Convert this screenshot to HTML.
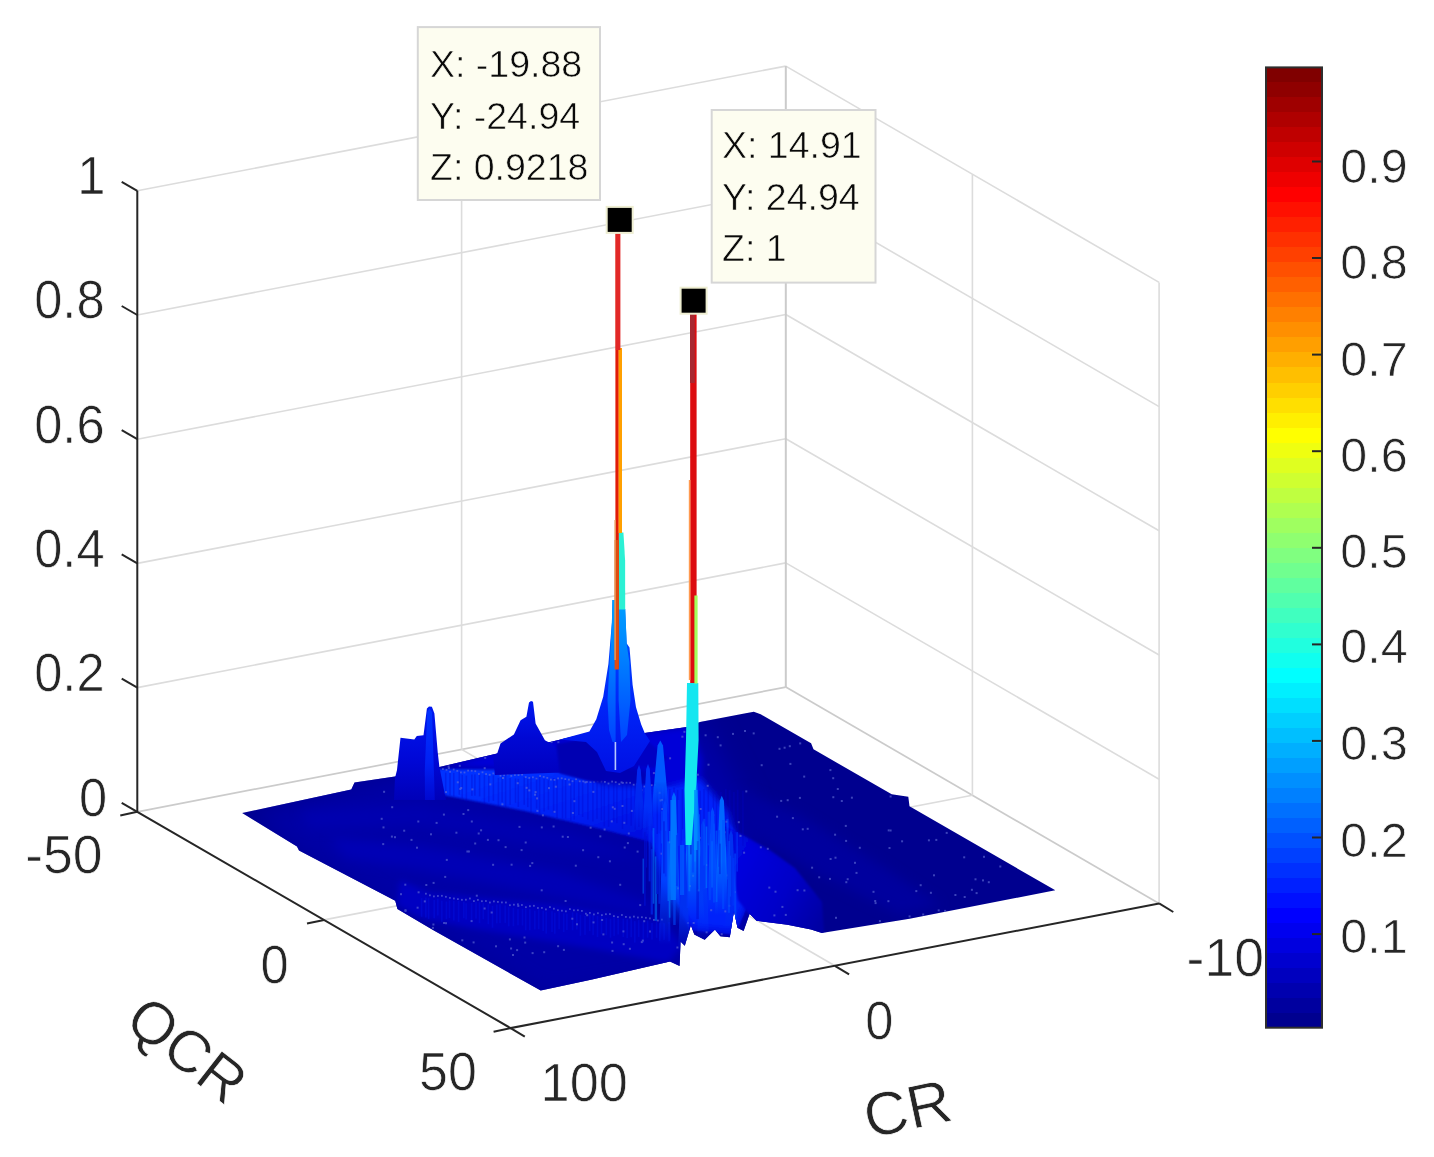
<!DOCTYPE html>
<html lang="en">
<head>
<meta charset="utf-8">
<title>QCR / CR surface plot</title>
<style>
html,body{margin:0;padding:0;background:#fff;}
body{width:1434px;height:1157px;overflow:hidden;}
svg{display:block;}
text{white-space:pre;}
</style>
</head>
<body>
<svg width="1434" height="1157" viewBox="0 0 1434 1157">
<rect x="0" y="0" width="1434" height="1157" fill="#ffffff"/>
<g fill="none" stroke-linecap="butt">
<line x1="137.3" y1="811.8" x2="785.8" y2="687.1" stroke="#cbcbcb" stroke-width="1.7"/>
<line x1="785.8" y1="687.1" x2="1159.1" y2="903.4" stroke="#cbcbcb" stroke-width="1.7"/>
<line x1="137.3" y1="687.6" x2="785.8" y2="562.9" stroke="#dcdcdc" stroke-width="1.6"/>
<line x1="785.8" y1="562.9" x2="1159.1" y2="779.2" stroke="#dcdcdc" stroke-width="1.6"/>
<line x1="137.3" y1="563.4" x2="785.8" y2="438.7" stroke="#dcdcdc" stroke-width="1.6"/>
<line x1="785.8" y1="438.7" x2="1159.1" y2="655" stroke="#dcdcdc" stroke-width="1.6"/>
<line x1="137.3" y1="439.2" x2="785.8" y2="314.5" stroke="#dcdcdc" stroke-width="1.6"/>
<line x1="785.8" y1="314.5" x2="1159.1" y2="530.8" stroke="#dcdcdc" stroke-width="1.6"/>
<line x1="137.3" y1="315" x2="785.8" y2="190.3" stroke="#dcdcdc" stroke-width="1.6"/>
<line x1="785.8" y1="190.3" x2="1159.1" y2="406.6" stroke="#dcdcdc" stroke-width="1.6"/>
<line x1="137.3" y1="190.8" x2="785.8" y2="66.1" stroke="#dcdcdc" stroke-width="1.6"/>
<line x1="785.8" y1="66.1" x2="1159.1" y2="282.4" stroke="#dcdcdc" stroke-width="1.6"/>
<line x1="461.6" y1="749.4" x2="461.6" y2="128.4" stroke="#dcdcdc" stroke-width="1.6"/>
<line x1="785.8" y1="687.1" x2="785.8" y2="66.1" stroke="#cbcbcb" stroke-width="2"/>
<line x1="972.4" y1="795.2" x2="972.4" y2="174.2" stroke="#dcdcdc" stroke-width="1.6"/>
<line x1="1159.1" y1="903.4" x2="1159.1" y2="282.4" stroke="#dcdcdc" stroke-width="1.6"/>
<line x1="461.6" y1="749.4" x2="834.9" y2="965.8" stroke="#dcdcdc" stroke-width="1.6"/>
<line x1="972.4" y1="795.2" x2="324" y2="919.9" stroke="#dcdcdc" stroke-width="1.6"/>
</g>
<defs>
<clipPath id="sc"><polygon points="242.1,813 351.3,789.5 354.5,782.6 395,776.5 439.4,767 497.2,753.6 548,742.5 585.9,733.6 644.7,733.1 687,727 700,721.9 744.3,713.5 753.8,711.7 760.7,714.3 811.1,743.3 813.5,749.3 891.7,794.3 908.3,796.7 909.5,806.2 1055.3,890.3 909.5,918.8 821.8,933 811,929.5 787.4,924.7 756.6,920.8 749.6,913.8 743.6,931.1 737.5,927.7 734,910.4 729.8,937.2 720.3,936.3 715,929.4 704.7,939.8 694.3,934.6 690.9,925 684.8,945.8 680.5,941.5 679.6,966 670,961.6 592,979.5 540.7,990.6 433,930 397.4,909 395.3,900.8 299,850.6 297,846.4"/></clipPath>
<filter id="b12" x="-20%" y="-20%" width="140%" height="140%"><feGaussianBlur stdDeviation="12"/></filter>
<filter id="b6" x="-20%" y="-20%" width="140%" height="140%"><feGaussianBlur stdDeviation="6"/></filter>
<filter id="b3" x="-20%" y="-20%" width="140%" height="140%"><feGaussianBlur stdDeviation="3"/></filter>
<filter id="b1" x="-20%" y="-20%" width="140%" height="140%"><feGaussianBlur stdDeviation="1.2"/></filter>
<linearGradient id="rg" gradientUnits="userSpaceOnUse" x1="560" y1="760" x2="590" y2="850"><stop offset="0" stop-color="#0030ff"/><stop offset="0.6" stop-color="#0020f4"/><stop offset="1" stop-color="#0010e0"/></linearGradient>
<linearGradient id="rw" gradientUnits="userSpaceOnUse" x1="725" y1="860" x2="825" y2="915"><stop offset="0" stop-color="#0008e4"/><stop offset="0.6" stop-color="#0000c8"/><stop offset="1" stop-color="#0000a4"/></linearGradient>
<linearGradient id="pk1" gradientUnits="userSpaceOnUse" x1="0" y1="706" x2="0" y2="800"><stop offset="0" stop-color="#0018f0"/><stop offset="0.55" stop-color="#0008d8"/><stop offset="1" stop-color="#0000b8"/></linearGradient>
<linearGradient id="pk1b" gradientUnits="userSpaceOnUse" x1="0" y1="706" x2="0" y2="800"><stop offset="0" stop-color="#0034ff"/><stop offset="0.6" stop-color="#0020f4"/><stop offset="1" stop-color="#0008d0"/></linearGradient>
<linearGradient id="pk2" gradientUnits="userSpaceOnUse" x1="0" y1="701" x2="0" y2="775"><stop offset="0" stop-color="#0018f0"/><stop offset="0.5" stop-color="#0008d4"/><stop offset="1" stop-color="#0000c0"/></linearGradient>
<linearGradient id="pk3" gradientUnits="userSpaceOnUse" x1="0" y1="600" x2="0" y2="775"><stop offset="0" stop-color="#0070ff"/><stop offset="0.3" stop-color="#0040ff"/><stop offset="0.6" stop-color="#0024f8"/><stop offset="1" stop-color="#0010e4"/></linearGradient>
<linearGradient id="pk3l" gradientUnits="userSpaceOnUse" x1="0" y1="600" x2="0" y2="745"><stop offset="0" stop-color="#00a0ff"/><stop offset="0.4" stop-color="#0080ff"/><stop offset="1" stop-color="#0040ff"/></linearGradient>
</defs>
<polygon points="242.1,813 351.3,789.5 354.5,782.6 395,776.5 439.4,767 497.2,753.6 548,742.5 585.9,733.6 644.7,733.1 687,727 700,721.9 744.3,713.5 753.8,711.7 760.7,714.3 811.1,743.3 813.5,749.3 891.7,794.3 908.3,796.7 909.5,806.2 1055.3,890.3 909.5,918.8 821.8,933 811,929.5 787.4,924.7 756.6,920.8 749.6,913.8 743.6,931.1 737.5,927.7 734,910.4 729.8,937.2 720.3,936.3 715,929.4 704.7,939.8 694.3,934.6 690.9,925 684.8,945.8 680.5,941.5 679.6,966 670,961.6 592,979.5 540.7,990.6 433,930 397.4,909 395.3,900.8 299,850.6 297,846.4" fill="#00008f"/>
<g clip-path="url(#sc)">
<polygon filter="url(#b12)" fill="#0000a6" points="250,815 350,785 440,762 600,728 705,722 745,800 770,925 690,975 545,1000 400,915 300,855"/>
<polygon filter="url(#b3)" fill="#0004d8" points="440,767 497,752 548,741 586,732 645,732 690,726 702,760 700,790 651,785 588,780 550,770"/>
<polygon filter="url(#b1)" fill="url(#rg)" points="440,769 550,770 588,780 651,785 700,790 735,830 748,905 735,935 690,930 651,842 601,829 525,811 433,793 398,790 398,778"/>
<polygon filter="url(#b3)" fill="#0024fa" points="648,792 700,778 728,812 742,860 744,905 733,930 692,926 668,892 652,845"/>
<polygon filter="url(#b3)" fill="#0000b4" points="590,768 625,762 652,774 640,786 600,784"/>
<polygon filter="url(#b3)" fill="#0000c2" points="400,880 430,893 560,905 664,921 682,946 668,963 600,950 470,928 420,918 397,905"/>
<polygon filter="url(#b6)" fill="#0000b6" points="330,838 420,846 560,872 655,905 655,918 560,898 420,870 345,858"/>
<polygon filter="url(#b6)" fill="#0000b0" points="300,812 420,805 560,830 650,860 560,850 420,826 310,828"/>
<polygon filter="url(#b1)" fill="url(#rw)" points="722,826 745,836 770,850 795,868 822,902 824,934 790,927 755,922 738,900"/>
<polygon filter="url(#b6)" fill="#00009e" points="740,790 800,815 880,865 940,905 900,915 820,875 745,830"/>
<g fill="#0000c8" opacity="0.3"><rect x="444.9" y="772.6" width="1.6" height="24.7"/><rect x="449.2" y="772.6" width="1.6" height="22.7"/><rect x="453" y="772.9" width="1.6" height="23.5"/><rect x="458.5" y="771.6" width="1.6" height="23.2"/><rect x="461.4" y="774.7" width="1.6" height="23.8"/><rect x="465.6" y="775.6" width="1.6" height="25.8"/><rect x="471.1" y="774.5" width="1.6" height="21.4"/><rect x="474.1" y="774.4" width="1.6" height="21.3"/><rect x="478.8" y="773.6" width="1.6" height="22.8"/><rect x="483.6" y="774.7" width="1.6" height="29.1"/><rect x="488" y="775.8" width="1.6" height="26"/><rect x="492.6" y="775.3" width="1.6" height="25.5"/><rect x="497.6" y="777.8" width="1.6" height="28.5"/><rect x="501.3" y="775.3" width="1.6" height="26.7"/><rect x="504.8" y="774.6" width="1.6" height="32.4"/><rect x="509.3" y="778" width="1.6" height="26.8"/><rect x="514.7" y="778.4" width="1.6" height="24.3"/><rect x="517.5" y="778.8" width="1.6" height="28.2"/><rect x="523.4" y="777.1" width="1.6" height="27.7"/><rect x="527" y="778.9" width="1.6" height="28.2"/><rect x="530.2" y="777.3" width="1.6" height="35.9"/><rect x="535.8" y="776.9" width="1.6" height="31.7"/><rect x="538.8" y="776.8" width="1.6" height="36.7"/><rect x="543.3" y="779.1" width="1.6" height="32.4"/><rect x="547.6" y="780.1" width="1.6" height="29.7"/><rect x="552.8" y="778" width="1.6" height="35.1"/><rect x="556.2" y="778.8" width="1.6" height="39.2"/><rect x="561.7" y="779.3" width="1.6" height="39.1"/><rect x="564.8" y="779.9" width="1.6" height="38.8"/><rect x="570" y="779.1" width="1.6" height="41.7"/><rect x="573.4" y="779.9" width="1.6" height="39.7"/><rect x="578" y="780.4" width="1.6" height="34.5"/><rect x="581.8" y="781.8" width="1.6" height="35.2"/><rect x="587.1" y="781.3" width="1.6" height="38.3"/><rect x="592.1" y="782.1" width="1.6" height="39.4"/><rect x="596.2" y="781.1" width="1.6" height="37.7"/><rect x="600.6" y="784" width="1.6" height="36.5"/><rect x="603.5" y="783.9" width="1.6" height="42.6"/><rect x="607.8" y="785" width="1.6" height="41.8"/><rect x="612.9" y="783.2" width="1.6" height="38.3"/><rect x="616.1" y="785.6" width="1.6" height="37.6"/><rect x="621.7" y="783.1" width="1.6" height="45.8"/><rect x="625.8" y="783.6" width="1.6" height="40.9"/><rect x="630.3" y="783" width="1.6" height="42.8"/><rect x="634.3" y="786.4" width="1.6" height="43.2"/><rect x="638.1" y="786.9" width="1.6" height="40.1"/><rect x="641.8" y="784.5" width="1.6" height="45"/><rect x="646.2" y="784.5" width="1.6" height="45.3"/><rect x="651.5" y="784.6" width="1.6" height="46.1"/><rect x="656.5" y="788.4" width="1.6" height="45.6"/><rect x="660.4" y="787" width="1.6" height="43.5"/><rect x="663.4" y="785" width="1.6" height="52.3"/><rect x="669" y="789.1" width="1.6" height="42"/><rect x="673.2" y="787.5" width="1.6" height="50.1"/><rect x="676.8" y="789.8" width="1.6" height="43.2"/><rect x="681.6" y="789.1" width="1.6" height="51.4"/><rect x="686.3" y="789.2" width="1.6" height="51.3"/><rect x="690.9" y="788.1" width="1.6" height="52.3"/><rect x="695.2" y="790.5" width="1.6" height="48.6"/><rect x="699.3" y="790.7" width="1.6" height="50.4"/><rect x="703.2" y="789.1" width="1.6" height="52.8"/><rect x="707.5" y="788.2" width="1.6" height="55"/><rect x="712.6" y="791.7" width="1.6" height="53.1"/><rect x="715.7" y="791.3" width="1.6" height="52.9"/><rect x="720.1" y="792" width="1.6" height="49"/><rect x="725" y="789.1" width="1.6" height="56.9"/><rect x="728.8" y="790.2" width="1.6" height="57.4"/><rect x="733.1" y="792" width="1.6" height="58.1"/><rect x="736.9" y="789.8" width="1.6" height="56"/><rect x="742.1" y="790.9" width="1.6" height="54.8"/></g>
<g fill="#0010e0" opacity="0.45"><rect x="420.8" y="898.1" width="1.6" height="18.7"/><rect x="425" y="897.5" width="1.6" height="20"/><rect x="427.8" y="898.1" width="1.6" height="20.8"/><rect x="433.4" y="900" width="1.6" height="18.3"/><rect x="437" y="898.7" width="1.6" height="16.8"/><rect x="441" y="900.7" width="1.6" height="21.1"/><rect x="445.6" y="901.5" width="1.6" height="17.7"/><rect x="448.7" y="900.3" width="1.6" height="17.7"/><rect x="453" y="900.7" width="1.6" height="19.8"/><rect x="457.8" y="900.9" width="1.6" height="21"/><rect x="463" y="901.8" width="1.6" height="16.4"/><rect x="465.3" y="903.3" width="1.6" height="16.2"/><rect x="470.8" y="903" width="1.6" height="17.9"/><rect x="475.2" y="901.8" width="1.6" height="16.8"/><rect x="478.7" y="902.2" width="1.6" height="21"/><rect x="482.5" y="902.9" width="1.6" height="16.3"/><rect x="487.5" y="904.4" width="1.6" height="19.8"/><rect x="491.7" y="905.9" width="1.6" height="21.8"/><rect x="496" y="904.5" width="1.6" height="18.9"/><rect x="499.2" y="904.3" width="1.6" height="18.8"/><rect x="504.4" y="905.3" width="1.6" height="17.6"/><rect x="507.9" y="907.2" width="1.6" height="19.1"/><rect x="512.6" y="907.9" width="1.6" height="18.4"/><rect x="517.2" y="908.8" width="1.6" height="16.5"/><rect x="521.7" y="908.7" width="1.6" height="16.8"/><rect x="524.9" y="908.8" width="1.6" height="21.5"/><rect x="529" y="909" width="1.6" height="21.3"/><rect x="534" y="910.7" width="1.6" height="18.8"/><rect x="537.9" y="908.9" width="1.6" height="20.3"/><rect x="542.4" y="910.7" width="1.6" height="20.3"/><rect x="545.4" y="911.7" width="1.6" height="21.9"/><rect x="551.2" y="911.3" width="1.6" height="20.7"/><rect x="554" y="912.7" width="1.6" height="21.1"/><rect x="558.3" y="910.6" width="1.6" height="18.6"/><rect x="562.9" y="913.2" width="1.6" height="18.9"/><rect x="566.1" y="913.6" width="1.6" height="16.4"/><rect x="571.8" y="912.3" width="1.6" height="18"/><rect x="576" y="912.6" width="1.6" height="16.9"/><rect x="579.6" y="914.8" width="1.6" height="21"/><rect x="584.2" y="915.9" width="1.6" height="19"/><rect x="588.9" y="913.8" width="1.6" height="17.3"/><rect x="592.3" y="914.8" width="1.6" height="20.4"/><rect x="596.7" y="915.9" width="1.6" height="21.1"/><rect x="600.7" y="915.7" width="1.6" height="18.3"/><rect x="605.5" y="918" width="1.6" height="17.2"/><rect x="609.7" y="918.6" width="1.6" height="19.1"/><rect x="613.3" y="916.7" width="1.6" height="19.2"/><rect x="617.4" y="918.3" width="1.6" height="16.2"/><rect x="622.5" y="918.6" width="1.6" height="18.4"/><rect x="626.4" y="919.2" width="1.6" height="18.9"/><rect x="630.4" y="918.1" width="1.6" height="19.2"/><rect x="634" y="921.1" width="1.6" height="21.5"/><rect x="637.9" y="920.1" width="1.6" height="16.8"/><rect x="642.5" y="921.6" width="1.6" height="21.4"/><rect x="646.8" y="920.5" width="1.6" height="17.1"/><rect x="651.2" y="922.8" width="1.6" height="16.8"/><rect x="655.8" y="920.6" width="1.6" height="17.2"/><rect x="658.9" y="922.9" width="1.6" height="17.9"/><rect x="663.3" y="923.2" width="1.6" height="16.6"/><rect x="668.3" y="922.2" width="1.6" height="19.1"/></g>
<g fill="#6470d8" opacity="0.6"><rect x="580.8" y="764.7" width="2" height="2"/><rect x="783.6" y="746.7" width="2" height="2"/><rect x="712.2" y="814.1" width="2" height="2"/><rect x="416" y="846.7" width="2" height="2"/><rect x="403.2" y="829.7" width="2" height="2"/><rect x="423.3" y="750.9" width="2" height="2"/><rect x="643.2" y="920.2" width="2" height="2"/><rect x="456.8" y="781.3" width="2" height="2"/><rect x="769" y="948" width="2" height="2"/><rect x="737.8" y="821.2" width="2" height="2"/><rect x="985.3" y="740.7" width="2" height="2"/><rect x="912.3" y="796.6" width="2" height="2"/><rect x="469.4" y="757.1" width="2" height="2"/><rect x="571.3" y="917.7" width="2" height="2"/><rect x="492.1" y="863.8" width="2" height="2"/><rect x="776.1" y="815.7" width="2" height="2"/><rect x="719.6" y="744.4" width="2" height="2"/><rect x="417" y="777.4" width="2" height="2"/><rect x="801.8" y="828.3" width="2" height="2"/><rect x="574.8" y="864.7" width="2" height="2"/><rect x="661" y="798.9" width="2" height="2"/><rect x="872.5" y="890.8" width="2" height="2"/><rect x="531.3" y="862.1" width="2" height="2"/><rect x="705.6" y="931.3" width="2" height="2"/><rect x="832.3" y="796.2" width="2" height="2"/><rect x="987.7" y="757.2" width="2" height="2"/><rect x="639.2" y="904.1" width="2" height="2"/><rect x="474.2" y="842.5" width="2" height="2"/><rect x="404.3" y="883.7" width="2" height="2"/><rect x="854" y="861.8" width="2" height="2"/><rect x="922.8" y="802.2" width="2" height="2"/><rect x="811.1" y="866.7" width="2" height="2"/><rect x="739.5" y="834.9" width="2" height="2"/><rect x="900.8" y="947.3" width="2" height="2"/><rect x="673.9" y="882.8" width="2" height="2"/><rect x="417.6" y="891.3" width="2" height="2"/><rect x="781.2" y="958.4" width="2" height="2"/><rect x="889.6" y="795.5" width="2" height="2"/><rect x="619.2" y="883.8" width="2" height="2"/><rect x="394" y="836.2" width="2" height="2"/><rect x="484.2" y="756.9" width="2" height="2"/><rect x="416.6" y="906.7" width="2" height="2"/><rect x="460.2" y="787" width="2" height="2"/><rect x="622.4" y="930.4" width="2" height="2"/><rect x="430" y="833.3" width="2" height="2"/><rect x="720.7" y="933.2" width="2" height="2"/><rect x="888" y="928.7" width="2" height="2"/><rect x="552.6" y="825.5" width="2" height="2"/><rect x="602.4" y="933.4" width="2" height="2"/><rect x="973.8" y="764.7" width="2" height="2"/><rect x="489.3" y="783.4" width="2" height="2"/><rect x="524.7" y="841.5" width="2" height="2"/><rect x="745.3" y="790.4" width="2" height="2"/><rect x="382.5" y="826.4" width="2" height="2"/><rect x="608.9" y="860.3" width="2" height="2"/><rect x="970.9" y="888.8" width="2" height="2"/><rect x="699.6" y="872" width="2" height="2"/><rect x="799.2" y="742.4" width="2" height="2"/><rect x="937.7" y="909.4" width="2" height="2"/><rect x="922.2" y="913.5" width="2" height="2"/><rect x="623.3" y="821.8" width="2" height="2"/><rect x="444.2" y="875.9" width="2" height="2"/><rect x="418.6" y="745.5" width="2" height="2"/><rect x="509.4" y="767.3" width="2" height="2"/><rect x="590.8" y="742.1" width="2" height="2"/><rect x="380.1" y="764.8" width="2" height="2"/><rect x="442.9" y="813.6" width="2" height="2"/><rect x="395.8" y="931.1" width="2" height="2"/><rect x="760.7" y="764.2" width="2" height="2"/><rect x="536.4" y="809.9" width="2" height="2"/><rect x="605.8" y="758.3" width="2" height="2"/><rect x="906.3" y="958.4" width="2" height="2"/><rect x="668.9" y="841.3" width="2" height="2"/><rect x="433.2" y="753.5" width="2" height="2"/><rect x="592.4" y="790.9" width="2" height="2"/><rect x="893.9" y="767.1" width="2" height="2"/><rect x="394.3" y="948.7" width="2" height="2"/><rect x="707.5" y="763.7" width="2" height="2"/><rect x="716.8" y="736.2" width="2" height="2"/><rect x="707.4" y="955.1" width="2" height="2"/><rect x="915.3" y="890.1" width="2" height="2"/><rect x="541.9" y="814.3" width="2" height="2"/><rect x="483.6" y="907.5" width="2" height="2"/><rect x="710.2" y="909.2" width="2" height="2"/><rect x="584.4" y="781.3" width="2" height="2"/><rect x="883.1" y="956.5" width="2" height="2"/><rect x="908.6" y="915.4" width="2" height="2"/><rect x="887.4" y="900.2" width="2" height="2"/><rect x="520.6" y="849.1" width="2" height="2"/><rect x="600.4" y="736.7" width="2" height="2"/><rect x="397.3" y="794.3" width="2" height="2"/><rect x="540.7" y="889.3" width="2" height="2"/><rect x="973" y="832.9" width="2" height="2"/><rect x="961" y="957.2" width="2" height="2"/><rect x="972.1" y="813.9" width="2" height="2"/><rect x="516.7" y="782.2" width="2" height="2"/><rect x="502" y="777" width="2" height="2"/><rect x="766.9" y="937.1" width="2" height="2"/><rect x="901.1" y="840.3" width="2" height="2"/><rect x="784.8" y="913.9" width="2" height="2"/><rect x="432.6" y="881.9" width="2" height="2"/><rect x="944.1" y="909.9" width="2" height="2"/><rect x="845.1" y="839.9" width="2" height="2"/><rect x="490.7" y="911.5" width="2" height="2"/><rect x="586.2" y="914.2" width="2" height="2"/><rect x="982.4" y="821" width="2" height="2"/><rect x="628.9" y="947.8" width="2" height="2"/><rect x="829.4" y="769.1" width="2" height="2"/><rect x="458.8" y="764.8" width="2" height="2"/><rect x="941" y="915.5" width="2" height="2"/><rect x="470.6" y="920.1" width="2" height="2"/><rect x="987.8" y="881.2" width="2" height="2"/><rect x="597.3" y="856.2" width="2" height="2"/><rect x="461.2" y="733.3" width="2" height="2"/><rect x="982" y="879.4" width="2" height="2"/><rect x="706.5" y="944.7" width="2" height="2"/><rect x="649" y="930.5" width="2" height="2"/><rect x="892.2" y="778.5" width="2" height="2"/><rect x="536.1" y="797.4" width="2" height="2"/><rect x="529.1" y="864.9" width="2" height="2"/><rect x="540.8" y="826.4" width="2" height="2"/><rect x="461.3" y="939.3" width="2" height="2"/><rect x="599.3" y="835.4" width="2" height="2"/><rect x="741.7" y="938" width="2" height="2"/><rect x="640.8" y="941.1" width="2" height="2"/><rect x="691" y="852.3" width="2" height="2"/><rect x="704.6" y="734.3" width="2" height="2"/><rect x="652.9" y="772.1" width="2" height="2"/><rect x="382.4" y="913.8" width="2" height="2"/><rect x="486.9" y="838.9" width="2" height="2"/><rect x="829.6" y="858" width="2" height="2"/><rect x="582.1" y="849.2" width="2" height="2"/><rect x="724.4" y="910.4" width="2" height="2"/><rect x="445.8" y="858.9" width="2" height="2"/><rect x="534.1" y="793.7" width="2" height="2"/><rect x="858.8" y="846.8" width="2" height="2"/><rect x="728.3" y="904.8" width="2" height="2"/><rect x="945.7" y="831.9" width="2" height="2"/><rect x="759.8" y="846.3" width="2" height="2"/><rect x="697.5" y="889.3" width="2" height="2"/><rect x="660.5" y="852.7" width="2" height="2"/><rect x="676.4" y="946.5" width="2" height="2"/><rect x="813.5" y="931.6" width="2" height="2"/><rect x="964.2" y="789.7" width="2" height="2"/><rect x="726.9" y="947" width="2" height="2"/><rect x="900.8" y="761.5" width="2" height="2"/><rect x="455.4" y="831.7" width="2" height="2"/><rect x="425" y="785.3" width="2" height="2"/><rect x="425.3" y="884" width="2" height="2"/><rect x="866" y="936.3" width="2" height="2"/><rect x="475.8" y="894.7" width="2" height="2"/><rect x="789.4" y="762.9" width="2" height="2"/><rect x="927.4" y="952.5" width="2" height="2"/><rect x="516.1" y="949.1" width="2" height="2"/><rect x="626.9" y="842.1" width="2" height="2"/><rect x="993.7" y="921.5" width="2" height="2"/><rect x="480.1" y="829.3" width="2" height="2"/><rect x="699.7" y="808" width="2" height="2"/><rect x="501.4" y="803.3" width="2" height="2"/><rect x="827.7" y="734.5" width="2" height="2"/><rect x="723.5" y="831.3" width="2" height="2"/><rect x="391.2" y="806.2" width="2" height="2"/><rect x="766.8" y="847.8" width="2" height="2"/><rect x="419.9" y="956.6" width="2" height="2"/><rect x="868.8" y="953.5" width="2" height="2"/><rect x="445" y="791.1" width="2" height="2"/><rect x="404.5" y="909.2" width="2" height="2"/><rect x="547.7" y="759.8" width="2" height="2"/><rect x="641.8" y="939.6" width="2" height="2"/><rect x="887.8" y="789.5" width="2" height="2"/><rect x="472.6" y="941.4" width="2" height="2"/><rect x="733.8" y="891.1" width="2" height="2"/><rect x="435.5" y="743.2" width="2" height="2"/><rect x="806.7" y="827.8" width="2" height="2"/><rect x="424.9" y="945.8" width="2" height="2"/><rect x="773.4" y="914.4" width="2" height="2"/><rect x="431.9" y="926.9" width="2" height="2"/><rect x="421.3" y="928.4" width="2" height="2"/><rect x="661.3" y="808" width="2" height="2"/><rect x="722.9" y="943.1" width="2" height="2"/><rect x="546.1" y="759.7" width="2" height="2"/><rect x="706.7" y="784.8" width="2" height="2"/><rect x="447.9" y="767.1" width="2" height="2"/><rect x="411.2" y="776.4" width="2" height="2"/><rect x="573.4" y="800.2" width="2" height="2"/><rect x="850.9" y="796.7" width="2" height="2"/><rect x="690.1" y="770.9" width="2" height="2"/><rect x="595.1" y="734.2" width="2" height="2"/><rect x="535.3" y="733.5" width="2" height="2"/><rect x="834.5" y="856.7" width="2" height="2"/><rect x="497.5" y="839.2" width="2" height="2"/><rect x="959.5" y="754.4" width="2" height="2"/><rect x="887.7" y="829.4" width="2" height="2"/><rect x="686.9" y="922" width="2" height="2"/><rect x="623.7" y="846.5" width="2" height="2"/><rect x="806.4" y="956" width="2" height="2"/><rect x="592.5" y="921.4" width="2" height="2"/><rect x="818.2" y="876.3" width="2" height="2"/><rect x="630.9" y="809.9" width="2" height="2"/><rect x="413.7" y="759.9" width="2" height="2"/><rect x="423.8" y="900.4" width="2" height="2"/><rect x="538.5" y="767.5" width="2" height="2"/><rect x="432.4" y="923.5" width="2" height="2"/><rect x="919.7" y="884.2" width="2" height="2"/><rect x="554.8" y="785.7" width="2" height="2"/><rect x="561.7" y="835.7" width="2" height="2"/><rect x="477.7" y="832.5" width="2" height="2"/><rect x="543.2" y="951.2" width="2" height="2"/><rect x="983" y="855.8" width="2" height="2"/><rect x="531.6" y="952.1" width="2" height="2"/><rect x="571.9" y="812" width="2" height="2"/><rect x="380.7" y="817.8" width="2" height="2"/><rect x="674.3" y="845.6" width="2" height="2"/><rect x="504.6" y="846.1" width="2" height="2"/><rect x="383.1" y="790.8" width="2" height="2"/><rect x="435.6" y="821.9" width="2" height="2"/><rect x="405.8" y="735.2" width="2" height="2"/><rect x="568.6" y="783.5" width="2" height="2"/><rect x="743.1" y="851.7" width="2" height="2"/><rect x="845.3" y="881.2" width="2" height="2"/><rect x="823.9" y="932.2" width="2" height="2"/><rect x="621.5" y="805" width="2" height="2"/><rect x="990.5" y="764.4" width="2" height="2"/><rect x="829" y="877.9" width="2" height="2"/><rect x="407.1" y="922.1" width="2" height="2"/><rect x="933" y="874.3" width="2" height="2"/><rect x="835" y="916.8" width="2" height="2"/><rect x="466.4" y="850.5" width="2" height="2"/><rect x="692.7" y="922" width="2" height="2"/><rect x="878.9" y="920.1" width="2" height="2"/><rect x="742.1" y="935.4" width="2" height="2"/><rect x="803.4" y="889.5" width="2" height="2"/><rect x="522.6" y="737.2" width="2" height="2"/><rect x="462.5" y="813" width="2" height="2"/><rect x="445" y="922.2" width="2" height="2"/><rect x="726.3" y="874.4" width="2" height="2"/><rect x="768.3" y="886.6" width="2" height="2"/><rect x="683.4" y="730.8" width="2" height="2"/><rect x="874.6" y="902.1" width="2" height="2"/><rect x="691.8" y="853.1" width="2" height="2"/><rect x="788.8" y="745.2" width="2" height="2"/><rect x="836.8" y="788" width="2" height="2"/><rect x="426.2" y="791.1" width="2" height="2"/><rect x="832.2" y="777.2" width="2" height="2"/><rect x="838.7" y="954.4" width="2" height="2"/><rect x="686.2" y="818" width="2" height="2"/><rect x="677" y="887.3" width="2" height="2"/><rect x="855.5" y="871.9" width="2" height="2"/><rect x="778.5" y="747.8" width="2" height="2"/><rect x="471.4" y="788.4" width="2" height="2"/><rect x="840.8" y="800" width="2" height="2"/><rect x="732" y="732.9" width="2" height="2"/><rect x="417.6" y="791.8" width="2" height="2"/><rect x="796.6" y="889.2" width="2" height="2"/><rect x="798.9" y="796.9" width="2" height="2"/><rect x="700.3" y="836.9" width="2" height="2"/><rect x="669.1" y="757.3" width="2" height="2"/><rect x="934.1" y="775.8" width="2" height="2"/><rect x="986.4" y="945.3" width="2" height="2"/><rect x="390.9" y="835.6" width="2" height="2"/><rect x="888.3" y="952.7" width="2" height="2"/><rect x="658.7" y="791.8" width="2" height="2"/><rect x="510.1" y="947.5" width="2" height="2"/><rect x="510.6" y="863.7" width="2" height="2"/><rect x="467.9" y="850.5" width="2" height="2"/><rect x="970.7" y="760.5" width="2" height="2"/><rect x="888.5" y="847" width="2" height="2"/><rect x="929.9" y="891.8" width="2" height="2"/><rect x="523.5" y="936.5" width="2" height="2"/><rect x="681.4" y="735.7" width="2" height="2"/><rect x="382.2" y="843.1" width="2" height="2"/><rect x="659.5" y="799.4" width="2" height="2"/><rect x="467.2" y="809.1" width="2" height="2"/><rect x="576" y="923.3" width="2" height="2"/><rect x="381.1" y="902.7" width="2" height="2"/><rect x="900.2" y="757.6" width="2" height="2"/><rect x="954.4" y="894" width="2" height="2"/><rect x="939" y="796.7" width="2" height="2"/><rect x="610.8" y="820.4" width="2" height="2"/><rect x="999.3" y="865.5" width="2" height="2"/><rect x="603.6" y="828.5" width="2" height="2"/><rect x="550.6" y="741.1" width="2" height="2"/><rect x="443.1" y="922" width="2" height="2"/><rect x="557.1" y="945.2" width="2" height="2"/><rect x="534.6" y="791.1" width="2" height="2"/><rect x="696.8" y="773.7" width="2" height="2"/><rect x="611.5" y="949.9" width="2" height="2"/><rect x="928.2" y="916.8" width="2" height="2"/><rect x="771.2" y="940.1" width="2" height="2"/><rect x="963.2" y="856.3" width="2" height="2"/><rect x="826.1" y="741.4" width="2" height="2"/><rect x="834.1" y="833.7" width="2" height="2"/><rect x="846.7" y="878.2" width="2" height="2"/><rect x="557.4" y="741.3" width="2" height="2"/><rect x="954.6" y="759.3" width="2" height="2"/><rect x="672.8" y="809" width="2" height="2"/><rect x="564.6" y="900" width="2" height="2"/><rect x="985.3" y="789.8" width="2" height="2"/><rect x="786.7" y="799.2" width="2" height="2"/><rect x="725.5" y="820.7" width="2" height="2"/><rect x="483.7" y="767.2" width="2" height="2"/><rect x="508.9" y="938.4" width="2" height="2"/><rect x="688.2" y="780.6" width="2" height="2"/><rect x="941.9" y="959.2" width="2" height="2"/><rect x="659" y="762.1" width="2" height="2"/><rect x="499.3" y="750.9" width="2" height="2"/><rect x="592" y="751" width="2" height="2"/><rect x="528.3" y="789.4" width="2" height="2"/><rect x="733.2" y="934.1" width="2" height="2"/><rect x="844.8" y="824.9" width="2" height="2"/><rect x="636.6" y="850.6" width="2" height="2"/><rect x="613.7" y="807.8" width="2" height="2"/><rect x="418.5" y="793.8" width="2" height="2"/><rect x="980" y="759" width="2" height="2"/><rect x="692.1" y="874.8" width="2" height="2"/><rect x="915" y="779.7" width="2" height="2"/><rect x="548" y="787.1" width="2" height="2"/><rect x="627.8" y="832.5" width="2" height="2"/><rect x="971.4" y="925.2" width="2" height="2"/><rect x="921.2" y="735" width="2" height="2"/><rect x="400" y="893.2" width="2" height="2"/><rect x="935.3" y="838.9" width="2" height="2"/><rect x="744" y="730" width="2" height="2"/><rect x="622.7" y="943.2" width="2" height="2"/><rect x="891.9" y="926.8" width="2" height="2"/><rect x="982.8" y="787.1" width="2" height="2"/><rect x="447.6" y="765.5" width="2" height="2"/><rect x="703.9" y="886.9" width="2" height="2"/><rect x="963.7" y="896" width="2" height="2"/><rect x="781.4" y="905.9" width="2" height="2"/><rect x="663.5" y="856.8" width="2" height="2"/><rect x="404.5" y="909.9" width="2" height="2"/><rect x="524.2" y="941.6" width="2" height="2"/><rect x="780.2" y="799.9" width="2" height="2"/><rect x="459.3" y="787.9" width="2" height="2"/><rect x="774.5" y="890.7" width="2" height="2"/><rect x="449.5" y="746.2" width="2" height="2"/><rect x="705.2" y="864.1" width="2" height="2"/><rect x="620.6" y="781.4" width="2" height="2"/><rect x="752.7" y="732.4" width="2" height="2"/><rect x="566.9" y="836" width="2" height="2"/><rect x="974.5" y="878.3" width="2" height="2"/><rect x="927.9" y="839.3" width="2" height="2"/><rect x="525.6" y="786.8" width="2" height="2"/><rect x="975.6" y="892.1" width="2" height="2"/><rect x="570.6" y="735" width="2" height="2"/><rect x="689" y="885.1" width="2" height="2"/><rect x="640.4" y="789.2" width="2" height="2"/><rect x="793.8" y="942.8" width="2" height="2"/><rect x="520.6" y="737.8" width="2" height="2"/><rect x="589.6" y="826.7" width="2" height="2"/><rect x="803.2" y="775.6" width="2" height="2"/><rect x="874.2" y="900" width="2" height="2"/><rect x="693" y="777.2" width="2" height="2"/><rect x="981.3" y="801.7" width="2" height="2"/><rect x="888.4" y="783.1" width="2" height="2"/><rect x="517.3" y="904.9" width="2" height="2"/><rect x="562.9" y="948.9" width="2" height="2"/><rect x="687.4" y="773.1" width="2" height="2"/><rect x="518.5" y="825.9" width="2" height="2"/><rect x="792.5" y="948.2" width="2" height="2"/><rect x="470.8" y="820.5" width="2" height="2"/><rect x="512" y="954" width="2" height="2"/><rect x="468" y="741.9" width="2" height="2"/><rect x="417.3" y="820.5" width="2" height="2"/><rect x="936.9" y="933.2" width="2" height="2"/><rect x="834.3" y="959.4" width="2" height="2"/><rect x="957.6" y="805.7" width="2" height="2"/><rect x="495" y="945.3" width="2" height="2"/><rect x="842.7" y="737.3" width="2" height="2"/><rect x="791.9" y="817.1" width="2" height="2"/><rect x="611.8" y="806.3" width="2" height="2"/><rect x="484.9" y="730.7" width="2" height="2"/><rect x="553.5" y="810.8" width="2" height="2"/><rect x="972.4" y="758.5" width="2" height="2"/><rect x="977.8" y="777.7" width="2" height="2"/><rect x="601.1" y="919" width="2" height="2"/><rect x="889.6" y="829.5" width="2" height="2"/><rect x="410.5" y="838.9" width="2" height="2"/><rect x="611.1" y="941.5" width="2" height="2"/><rect x="442" y="768.2" width="1.8" height="1.8"/><rect x="445.6" y="769" width="1.8" height="1.8"/><rect x="449.2" y="770.9" width="1.8" height="1.8"/><rect x="452.8" y="768.6" width="1.8" height="1.8"/><rect x="456.4" y="770" width="1.8" height="1.8"/><rect x="460" y="771.5" width="1.8" height="1.8"/><rect x="463.6" y="771.6" width="1.8" height="1.8"/><rect x="467.2" y="769.7" width="1.8" height="1.8"/><rect x="470.8" y="769.9" width="1.8" height="1.8"/><rect x="474.4" y="770.3" width="1.8" height="1.8"/><rect x="478" y="773.1" width="1.8" height="1.8"/><rect x="481.6" y="771.4" width="1.8" height="1.8"/><rect x="485.2" y="773.2" width="1.8" height="1.8"/><rect x="488.8" y="773.9" width="1.8" height="1.8"/><rect x="492.4" y="772.5" width="1.8" height="1.8"/><rect x="496" y="772.6" width="1.8" height="1.8"/><rect x="499.6" y="774.9" width="1.8" height="1.8"/><rect x="503.2" y="774.1" width="1.8" height="1.8"/><rect x="506.8" y="773.4" width="1.8" height="1.8"/><rect x="510.4" y="775" width="1.8" height="1.8"/><rect x="514" y="774.1" width="1.8" height="1.8"/><rect x="517.6" y="774.2" width="1.8" height="1.8"/><rect x="521.2" y="773.7" width="1.8" height="1.8"/><rect x="524.8" y="776.2" width="1.8" height="1.8"/><rect x="528.4" y="777" width="1.8" height="1.8"/><rect x="532" y="776.4" width="1.8" height="1.8"/><rect x="535.6" y="777.6" width="1.8" height="1.8"/><rect x="539.2" y="775.1" width="1.8" height="1.8"/><rect x="542.8" y="776" width="1.8" height="1.8"/><rect x="546.4" y="777" width="1.8" height="1.8"/><rect x="550" y="778.7" width="1.8" height="1.8"/><rect x="553.6" y="779" width="1.8" height="1.8"/><rect x="557.2" y="777.5" width="1.8" height="1.8"/><rect x="560.8" y="777.4" width="1.8" height="1.8"/><rect x="564.4" y="778.2" width="1.8" height="1.8"/><rect x="568" y="778.7" width="1.8" height="1.8"/><rect x="571.6" y="780.3" width="1.8" height="1.8"/><rect x="575.2" y="778.3" width="1.8" height="1.8"/><rect x="578.8" y="780.4" width="1.8" height="1.8"/><rect x="582.4" y="780.5" width="1.8" height="1.8"/><rect x="586" y="781" width="1.8" height="1.8"/><rect x="589.6" y="781.2" width="1.8" height="1.8"/><rect x="593.2" y="780.9" width="1.8" height="1.8"/><rect x="596.8" y="780.4" width="1.8" height="1.8"/><rect x="600.4" y="780.6" width="1.8" height="1.8"/><rect x="604" y="781" width="1.8" height="1.8"/><rect x="607.6" y="782.6" width="1.8" height="1.8"/><rect x="611.2" y="780.7" width="1.8" height="1.8"/><rect x="614.8" y="781.3" width="1.8" height="1.8"/><rect x="618.4" y="783.3" width="1.8" height="1.8"/><rect x="622" y="782" width="1.8" height="1.8"/><rect x="625.6" y="781.8" width="1.8" height="1.8"/><rect x="629.2" y="781.9" width="1.8" height="1.8"/><rect x="632.8" y="783.8" width="1.8" height="1.8"/><rect x="636.4" y="783.4" width="1.8" height="1.8"/><rect x="640" y="785.6" width="1.8" height="1.8"/><rect x="643.6" y="785.6" width="1.8" height="1.8"/><rect x="647.2" y="786.2" width="1.8" height="1.8"/><rect x="650.8" y="784.3" width="1.8" height="1.8"/><rect x="654.4" y="784" width="1.8" height="1.8"/><rect x="425" y="892.8" width="1.8" height="1.8"/><rect x="429" y="894.4" width="1.8" height="1.8"/><rect x="433" y="895.5" width="1.8" height="1.8"/><rect x="437" y="895.1" width="1.8" height="1.8"/><rect x="441" y="894.9" width="1.8" height="1.8"/><rect x="445" y="895.9" width="1.8" height="1.8"/><rect x="449" y="897" width="1.8" height="1.8"/><rect x="453" y="897.6" width="1.8" height="1.8"/><rect x="457" y="898.2" width="1.8" height="1.8"/><rect x="461" y="898.9" width="1.8" height="1.8"/><rect x="465" y="898.8" width="1.8" height="1.8"/><rect x="469" y="897.6" width="1.8" height="1.8"/><rect x="473" y="900.2" width="1.8" height="1.8"/><rect x="477" y="899" width="1.8" height="1.8"/><rect x="481" y="900.3" width="1.8" height="1.8"/><rect x="485" y="900.1" width="1.8" height="1.8"/><rect x="489" y="901.6" width="1.8" height="1.8"/><rect x="493" y="900.5" width="1.8" height="1.8"/><rect x="497" y="901" width="1.8" height="1.8"/><rect x="501" y="901.5" width="1.8" height="1.8"/><rect x="505" y="901.6" width="1.8" height="1.8"/><rect x="509" y="904.3" width="1.8" height="1.8"/><rect x="513" y="903.8" width="1.8" height="1.8"/><rect x="517" y="903.4" width="1.8" height="1.8"/><rect x="521" y="904.1" width="1.8" height="1.8"/><rect x="525" y="906.3" width="1.8" height="1.8"/><rect x="529" y="905.3" width="1.8" height="1.8"/><rect x="533" y="904.9" width="1.8" height="1.8"/><rect x="537" y="907.1" width="1.8" height="1.8"/><rect x="541" y="907" width="1.8" height="1.8"/><rect x="545" y="908.5" width="1.8" height="1.8"/><rect x="549" y="906.2" width="1.8" height="1.8"/><rect x="553" y="907.8" width="1.8" height="1.8"/><rect x="557" y="909.3" width="1.8" height="1.8"/><rect x="561" y="909.8" width="1.8" height="1.8"/><rect x="565" y="910.4" width="1.8" height="1.8"/><rect x="569" y="908.2" width="1.8" height="1.8"/><rect x="573" y="909.4" width="1.8" height="1.8"/><rect x="577" y="909.3" width="1.8" height="1.8"/><rect x="581" y="910" width="1.8" height="1.8"/><rect x="585" y="912.8" width="1.8" height="1.8"/><rect x="589" y="912" width="1.8" height="1.8"/><rect x="593" y="913.5" width="1.8" height="1.8"/><rect x="597" y="912.3" width="1.8" height="1.8"/><rect x="601" y="914.2" width="1.8" height="1.8"/><rect x="605" y="913.3" width="1.8" height="1.8"/><rect x="609" y="913.2" width="1.8" height="1.8"/><rect x="613" y="915.2" width="1.8" height="1.8"/><rect x="617" y="916.1" width="1.8" height="1.8"/><rect x="621" y="914.1" width="1.8" height="1.8"/><rect x="625" y="916" width="1.8" height="1.8"/><rect x="629" y="916.5" width="1.8" height="1.8"/><rect x="633" y="915.7" width="1.8" height="1.8"/><rect x="637" y="916.6" width="1.8" height="1.8"/><rect x="641" y="916.3" width="1.8" height="1.8"/><rect x="645" y="916.9" width="1.8" height="1.8"/><rect x="649" y="917.5" width="1.8" height="1.8"/><rect x="653" y="919" width="1.8" height="1.8"/><rect x="657" y="919.6" width="1.8" height="1.8"/><rect x="661" y="918.7" width="1.8" height="1.8"/></g>
</g>
<polygon fill="url(#pk1)" points="395,778 397,770 400.5,737.7 414.3,739.4 416.8,736 423.5,735.2 426.9,708.5 429,706.5 431.9,706.8 434.4,713.5 437.7,752 439.4,767 446,800 394,800"/>
<polygon fill="url(#pk1b)" points="424.8,770 427.2,712 429.5,708.5 432,712 434.8,800 425,800"/>
<polygon fill="url(#pk2)" points="493,757 497.2,753.6 500.5,743.6 513.9,734.4 520.6,720.2 526.4,716.8 529,702.6 531,701 533,701.8 535.6,723.5 544.9,740.3 552,744 575,772 495,775"/>
<polygon filter="url(#b1)" fill="#0000b2" points="556,744 588,738 600,755 607,772 601,783 582,779 560,773"/>
<polygon filter="url(#b1)" fill="#0000c4" points="644,738 668,758 654,768 636,766 630,770 636,748"/>
<polygon fill="url(#pk3)" points="560,739.5 589.4,731.4 596.3,719.3 603.2,696.8 608.4,664 611.9,622.5 612.4,600 618.6,600 618.6,609 625.2,609 626.6,643.2 629.5,647.5 632.6,684.7 636,707.2 641.2,724.5 644.7,733.1 650,741 634,766 620,773 606,771 597,752 586,742"/>
<polygon fill="url(#pk3l)" points="607.5,700 611.9,622.5 612.4,600 615.6,600 615.6,742 612.5,742 609,730"/>
<polygon fill="url(#pk3l)" points="618.6,609 625.2,609 626.8,645 629.4,662 630.5,700 627,735 621,742 618.6,700"/>
<rect x="614.6" y="742" width="1.6" height="28" fill="#b8c8ff"/>
<polygon fill="#2cf0d4" points="618.6,532.4 623.4,532.4 625.1,560 625.2,609.4 618.6,609.4"/>
<rect x="615.4" y="232" width="3.4" height="437" fill="#e01c08"/>
<rect x="618.6" y="348" width="3.4" height="185" fill="#ffa000"/>
<rect x="615.8" y="232" width="4.6" height="118" fill="#e22828"/>
<rect x="614.6" y="540" width="4.2" height="129.5" fill="#e04c10"/>
<rect x="614.4" y="520" width="1.4" height="140" fill="#e8a060"/>
<g clip-path="url(#sc)">
<linearGradient id="sg0" x1="0" y1="0" x2="0" y2="1"><stop offset="0" stop-color="#0058ff"/><stop offset="0.55" stop-color="#0058ff"/><stop offset="1" stop-color="#0058ff" stop-opacity="0"/></linearGradient>
<polygon fill="url(#sg0)" points="651.3,815 657.6,745.4 660.3,740.4 663,745.4 669.3,815"/>
<linearGradient id="sg1" x1="0" y1="0" x2="0" y2="1"><stop offset="0" stop-color="#0030f8"/><stop offset="0.55" stop-color="#0030f8"/><stop offset="1" stop-color="#0030f8" stop-opacity="0"/></linearGradient>
<polygon fill="url(#sg1)" points="642,840 646.2,769 648,764 649.8,769 654,840"/>
<linearGradient id="sg2" x1="0" y1="0" x2="0" y2="1"><stop offset="0" stop-color="#0028f0"/><stop offset="0.55" stop-color="#0028f0"/><stop offset="1" stop-color="#0028f0" stop-opacity="0"/></linearGradient>
<polygon fill="url(#sg2)" points="633,830 637.2,770 639,765 640.8,770 645,830"/>
<linearGradient id="sg3" x1="0" y1="0" x2="0" y2="1"><stop offset="0" stop-color="#0068ff"/><stop offset="0.55" stop-color="#0068ff"/><stop offset="1" stop-color="#0068ff" stop-opacity="0"/></linearGradient>
<polygon fill="url(#sg3)" points="667.4,925 671.9,797 673.9,792 675.9,797 680.4,925"/>
<linearGradient id="sg4" x1="0" y1="0" x2="0" y2="1"><stop offset="0" stop-color="#0040ff"/><stop offset="0.55" stop-color="#0040ff"/><stop offset="1" stop-color="#0040ff" stop-opacity="0"/></linearGradient>
<polygon fill="url(#sg4)" points="659,945 663.2,805 665,800 666.8,805 671,945"/>
<linearGradient id="sg5" x1="0" y1="0" x2="0" y2="1"><stop offset="0" stop-color="#0074ff"/><stop offset="0.55" stop-color="#0074ff"/><stop offset="1" stop-color="#0074ff" stop-opacity="0"/></linearGradient>
<polygon fill="url(#sg5)" points="682.4,920 690.1,776 693.4,771 696.7,776 704.4,920"/>
<linearGradient id="sg6" x1="0" y1="0" x2="0" y2="1"><stop offset="0" stop-color="#0048ff"/><stop offset="0.55" stop-color="#0048ff"/><stop offset="1" stop-color="#0048ff" stop-opacity="0"/></linearGradient>
<polygon fill="url(#sg6)" points="707,915 710.9,812 712.5,807 714.1,812 718,915"/>
<polygon fill="url(#sg3)" points="714.8,915 719.7,800.7 721.8,795.7 723.9,800.7 728.8,915"/>
<linearGradient id="sg7" x1="0" y1="0" x2="0" y2="1"><stop offset="0" stop-color="#0038f8"/><stop offset="0.55" stop-color="#0038f8"/><stop offset="1" stop-color="#0038f8" stop-opacity="0"/></linearGradient>
<polygon fill="url(#sg7)" points="697,940 701.2,825 703,820 704.8,825 709,940"/>
<linearGradient id="sg8" x1="0" y1="0" x2="0" y2="1"><stop offset="0" stop-color="#0030f0"/><stop offset="0.55" stop-color="#0030f0"/><stop offset="1" stop-color="#0030f0" stop-opacity="0"/></linearGradient>
<polygon fill="url(#sg8)" points="725,930 729.2,835 731,830 732.8,835 737,930"/>
<polygon fill="url(#sg8)" points="678,950 682.2,855 684,850 685.8,855 690,950"/>
</g>
<g opacity="0.55" clip-path="url(#sc)"><rect x="642.5" y="858.6" width="2.1" height="35" fill="#0068ff"/><rect x="644" y="832.2" width="1.7" height="73.6" fill="#0010d8"/><rect x="645.6" y="836" width="1.5" height="31.5" fill="#0010d8"/><rect x="648.6" y="813.7" width="1.9" height="67.7" fill="#0028f4"/><rect x="650.7" y="849.2" width="2.2" height="65.3" fill="#0038ff"/><rect x="652.6" y="828.1" width="1.8" height="75.6" fill="#0080ff"/><rect x="654.7" y="856.4" width="2.4" height="64.4" fill="#0080ff"/><rect x="656.3" y="837.2" width="2.2" height="56.8" fill="#0028f4"/><rect x="658.4" y="833.4" width="2" height="70.4" fill="#0038ff"/><rect x="661" y="811.2" width="1.7" height="32.3" fill="#0050ff"/><rect x="663.1" y="821.3" width="1.7" height="52.2" fill="#0010d8"/><rect x="664.9" y="830.9" width="1.5" height="45.5" fill="#0028f4"/><rect x="667.5" y="841.4" width="1.8" height="59.6" fill="#0080ff"/><rect x="668.9" y="831" width="1.6" height="86.7" fill="#0080ff"/><rect x="672" y="831.3" width="1.6" height="53.6" fill="#0050ff"/><rect x="673.2" y="847.2" width="2.5" height="77.8" fill="#0050ff"/><rect x="675.6" y="835.1" width="2.6" height="50.8" fill="#0028f4"/><rect x="677.6" y="800" width="2.1" height="45.9" fill="#0038ff"/><rect x="680.1" y="842.6" width="1.5" height="43" fill="#0028f4"/><rect x="681.9" y="829.2" width="1.7" height="63.5" fill="#0038ff"/><rect x="683.5" y="838.5" width="1.8" height="56.7" fill="#0038ff"/><rect x="686.6" y="836.7" width="1.9" height="71.3" fill="#0038ff"/><rect x="688.4" y="828.6" width="1.9" height="62.7" fill="#0080ff"/><rect x="690.1" y="821.3" width="1.7" height="33.1" fill="#0010d8"/><rect x="691.8" y="808.9" width="2.4" height="63.6" fill="#0038ff"/><rect x="694.2" y="797.9" width="2.1" height="63.7" fill="#0080ff"/><rect x="696.3" y="841.1" width="2.6" height="78" fill="#0010d8"/><rect x="698.4" y="814.3" width="1.6" height="77.1" fill="#0068ff"/><rect x="701.2" y="835.7" width="2.2" height="31.8" fill="#0038ff"/><rect x="703.2" y="818.8" width="2.1" height="46.6" fill="#0050ff"/><rect x="705.6" y="826.5" width="1.8" height="61.6" fill="#0080ff"/><rect x="707.6" y="811.7" width="2.5" height="33.7" fill="#0050ff"/><rect x="709.1" y="833.8" width="1.7" height="66.3" fill="#0050ff"/><rect x="711.1" y="841.2" width="2.5" height="46.4" fill="#0068ff"/><rect x="713" y="823.6" width="2" height="79" fill="#0050ff"/><rect x="715.6" y="830.6" width="1.9" height="71.5" fill="#0068ff"/><rect x="718.1" y="830.2" width="2" height="36.6" fill="#0038ff"/><rect x="719.2" y="843.6" width="1.4" height="30.5" fill="#0010d8"/><rect x="722.1" y="820" width="2.2" height="89" fill="#0050ff"/><rect x="723.4" y="821.9" width="1.6" height="51.7" fill="#0050ff"/><rect x="726.4" y="818.9" width="2.1" height="60.5" fill="#0050ff"/><rect x="727.9" y="841" width="2.1" height="71.8" fill="#0050ff"/><rect x="729.6" y="855.6" width="1.4" height="41" fill="#0050ff"/><rect x="732.4" y="858" width="2.5" height="47.7" fill="#0038ff"/><rect x="734.2" y="853.5" width="2.1" height="66.2" fill="#0050ff"/><rect x="736.3" y="832" width="1.7" height="39.6" fill="#0038ff"/></g>
<polygon fill="#14e6f0" points="687,683 698.3,683 698.6,740 696.5,780 691.5,845 685.6,845 684.5,790 686,740"/>
<rect x="690.2" y="313" width="6.4" height="370" fill="#dc0c10"/>
<rect x="690.0" y="313" width="4.8" height="70" fill="#a82830"/>
<rect x="688.8" y="480" width="1.6" height="200" fill="#ff9a50"/>
<rect x="694.4" y="595.5" width="3.2" height="88" fill="#a4ff5c"/>
<rect x="670.4" y="800" width="5.5" height="100" fill="#0078ff" opacity="0.85"/>
<rect x="694" y="790" width="3.5" height="60" fill="#0090ff" opacity="0.8"/>
<rect x="680" y="845" width="4" height="50" fill="#0058ff" opacity="0.8"/>
<g fill="none" stroke="#262626" stroke-width="2" stroke-linecap="butt">
<polyline points="137.3,190.8 137.3,811.8 510.6,1028.1 1159.1,903.4"/>
<line x1="137.3" y1="811.8" x2="121.7" y2="802.8" stroke="#262626" stroke-width="2"/>
<line x1="137.3" y1="687.6" x2="121.7" y2="678.6" stroke="#262626" stroke-width="2"/>
<line x1="137.3" y1="563.4" x2="121.7" y2="554.4" stroke="#262626" stroke-width="2"/>
<line x1="137.3" y1="439.2" x2="121.7" y2="430.2" stroke="#262626" stroke-width="2"/>
<line x1="137.3" y1="315" x2="121.7" y2="306" stroke="#262626" stroke-width="2"/>
<line x1="137.3" y1="190.8" x2="121.7" y2="181.8" stroke="#262626" stroke-width="2"/>
<line x1="137.3" y1="811.8" x2="120.3" y2="815.4" stroke="#262626" stroke-width="2"/>
<line x1="324" y1="919.9" x2="307" y2="923.5" stroke="#262626" stroke-width="2"/>
<line x1="510.6" y1="1028.1" x2="493.6" y2="1031.7" stroke="#262626" stroke-width="2"/>
<line x1="510.6" y1="1028.1" x2="524.8" y2="1036.7" stroke="#262626" stroke-width="2"/>
<line x1="834.9" y1="965.8" x2="849.1" y2="974.4" stroke="#262626" stroke-width="2"/>
<line x1="1159.1" y1="903.4" x2="1173.3" y2="912" stroke="#262626" stroke-width="2"/>
</g>
<clipPath id="lc"><rect x="0" y="0" width="1263" height="1157"/></clipPath>
<g font-family="'Liberation Sans', Arial, Helvetica, sans-serif" fill="#262626">
<text transform="translate(107.3,816) scale(0.975,1.035)" font-size="52" text-anchor="end" stroke="#ffffff" stroke-width="0.7">0</text>
<text transform="translate(104.6,690.9) scale(0.975,1.035)" font-size="52" text-anchor="end" stroke="#ffffff" stroke-width="0.7">0.2</text>
<text transform="translate(104.6,566.7) scale(0.975,1.035)" font-size="52" text-anchor="end" stroke="#ffffff" stroke-width="0.7">0.4</text>
<text transform="translate(104.6,442.5) scale(0.975,1.035)" font-size="52" text-anchor="end" stroke="#ffffff" stroke-width="0.7">0.6</text>
<text transform="translate(104.6,318.3) scale(0.975,1.035)" font-size="52" text-anchor="end" stroke="#ffffff" stroke-width="0.7">0.8</text>
<text transform="translate(105.4,194.1) scale(0.975,1.035)" font-size="52" text-anchor="end" stroke="#ffffff" stroke-width="0.7">1</text>
<text transform="translate(102.6,873.2) scale(1.03,1.035)" font-size="52" text-anchor="end" stroke="#ffffff" stroke-width="0.7">-50</text>
<text transform="translate(288.7,982.8) scale(0.975,1.035)" font-size="52" text-anchor="end" stroke="#ffffff" stroke-width="0.7">0</text>
<text transform="translate(476.8,1090.3) scale(1,1.035)" font-size="52" text-anchor="end" stroke="#ffffff" stroke-width="0.7">50</text>
<text transform="translate(540.6,1101.3) scale(1.005,1.035)" font-size="52" text-anchor="start" stroke="#ffffff" stroke-width="0.7">100</text>
<text transform="translate(865.3,1039.2) scale(0.975,1.035)" font-size="52" text-anchor="start" stroke="#ffffff" stroke-width="0.7">0</text>
<g clip-path="url(#lc)"><text transform="translate(1186.6,975.5) scale(1.03,1.035)" font-size="52" text-anchor="start" stroke="#ffffff" stroke-width="0.7">-100</text></g>
<text transform="translate(174.5,1066) rotate(38)" font-size="59.5" text-anchor="middle" stroke="#ffffff" stroke-width="0.7">QCR</text>
<text transform="translate(911.8,1129.3) rotate(-12)" font-size="61" text-anchor="middle" stroke="#ffffff" stroke-width="0.7">CR</text>
</g>
<g shape-rendering="crispEdges">
<rect x="1266" y="67.40" width="56" height="15.60" fill="#800000"/>
<rect x="1266" y="82.40" width="56" height="15.60" fill="#8f0000"/>
<rect x="1266" y="97.41" width="56" height="15.60" fill="#9f0000"/>
<rect x="1266" y="112.41" width="56" height="15.60" fill="#af0000"/>
<rect x="1266" y="127.42" width="56" height="15.60" fill="#bf0000"/>
<rect x="1266" y="142.42" width="56" height="15.60" fill="#cf0000"/>
<rect x="1266" y="157.43" width="56" height="15.60" fill="#df0000"/>
<rect x="1266" y="172.43" width="56" height="15.60" fill="#ef0000"/>
<rect x="1266" y="187.44" width="56" height="15.60" fill="#ff0000"/>
<rect x="1266" y="202.44" width="56" height="15.60" fill="#ff1000"/>
<rect x="1266" y="217.45" width="56" height="15.60" fill="#ff2000"/>
<rect x="1266" y="232.45" width="56" height="15.60" fill="#ff3000"/>
<rect x="1266" y="247.46" width="56" height="15.60" fill="#ff4000"/>
<rect x="1266" y="262.46" width="56" height="15.60" fill="#ff5000"/>
<rect x="1266" y="277.47" width="56" height="15.60" fill="#ff6000"/>
<rect x="1266" y="292.47" width="56" height="15.60" fill="#ff7000"/>
<rect x="1266" y="307.48" width="56" height="15.60" fill="#ff8000"/>
<rect x="1266" y="322.48" width="56" height="15.60" fill="#ff8f00"/>
<rect x="1266" y="337.48" width="56" height="15.60" fill="#ff9f00"/>
<rect x="1266" y="352.49" width="56" height="15.60" fill="#ffaf00"/>
<rect x="1266" y="367.49" width="56" height="15.60" fill="#ffbf00"/>
<rect x="1266" y="382.50" width="56" height="15.60" fill="#ffcf00"/>
<rect x="1266" y="397.50" width="56" height="15.60" fill="#ffdf00"/>
<rect x="1266" y="412.51" width="56" height="15.60" fill="#ffef00"/>
<rect x="1266" y="427.51" width="56" height="15.60" fill="#ffff00"/>
<rect x="1266" y="442.52" width="56" height="15.60" fill="#efff10"/>
<rect x="1266" y="457.52" width="56" height="15.60" fill="#dfff20"/>
<rect x="1266" y="472.53" width="56" height="15.60" fill="#cfff30"/>
<rect x="1266" y="487.53" width="56" height="15.60" fill="#bfff40"/>
<rect x="1266" y="502.54" width="56" height="15.60" fill="#afff50"/>
<rect x="1266" y="517.54" width="56" height="15.60" fill="#9fff60"/>
<rect x="1266" y="532.55" width="56" height="15.60" fill="#8fff70"/>
<rect x="1266" y="547.55" width="56" height="15.60" fill="#80ff80"/>
<rect x="1266" y="562.55" width="56" height="15.60" fill="#70ff8f"/>
<rect x="1266" y="577.56" width="56" height="15.60" fill="#60ff9f"/>
<rect x="1266" y="592.56" width="56" height="15.60" fill="#50ffaf"/>
<rect x="1266" y="607.57" width="56" height="15.60" fill="#40ffbf"/>
<rect x="1266" y="622.57" width="56" height="15.60" fill="#30ffcf"/>
<rect x="1266" y="637.58" width="56" height="15.60" fill="#20ffdf"/>
<rect x="1266" y="652.58" width="56" height="15.60" fill="#10ffef"/>
<rect x="1266" y="667.59" width="56" height="15.60" fill="#00ffff"/>
<rect x="1266" y="682.59" width="56" height="15.60" fill="#00efff"/>
<rect x="1266" y="697.60" width="56" height="15.60" fill="#00dfff"/>
<rect x="1266" y="712.60" width="56" height="15.60" fill="#00cfff"/>
<rect x="1266" y="727.61" width="56" height="15.60" fill="#00bfff"/>
<rect x="1266" y="742.61" width="56" height="15.60" fill="#00afff"/>
<rect x="1266" y="757.62" width="56" height="15.60" fill="#009fff"/>
<rect x="1266" y="772.62" width="56" height="15.60" fill="#008fff"/>
<rect x="1266" y="787.62" width="56" height="15.60" fill="#0080ff"/>
<rect x="1266" y="802.63" width="56" height="15.60" fill="#0070ff"/>
<rect x="1266" y="817.63" width="56" height="15.60" fill="#0060ff"/>
<rect x="1266" y="832.64" width="56" height="15.60" fill="#0050ff"/>
<rect x="1266" y="847.64" width="56" height="15.60" fill="#0040ff"/>
<rect x="1266" y="862.65" width="56" height="15.60" fill="#0030ff"/>
<rect x="1266" y="877.65" width="56" height="15.60" fill="#0020ff"/>
<rect x="1266" y="892.66" width="56" height="15.60" fill="#0010ff"/>
<rect x="1266" y="907.66" width="56" height="15.60" fill="#0000ff"/>
<rect x="1266" y="922.67" width="56" height="15.60" fill="#0000ef"/>
<rect x="1266" y="937.67" width="56" height="15.60" fill="#0000df"/>
<rect x="1266" y="952.68" width="56" height="15.60" fill="#0000cf"/>
<rect x="1266" y="967.68" width="56" height="15.60" fill="#0000bf"/>
<rect x="1266" y="982.69" width="56" height="15.60" fill="#0000af"/>
<rect x="1266" y="997.69" width="56" height="15.60" fill="#00009f"/>
<rect x="1266" y="1012.70" width="56" height="15.60" fill="#00008f"/>
</g>
<rect x="1266" y="67.4" width="56" height="960.3" fill="none" stroke="#2e2e2e" stroke-width="2"/>
<g font-family="'Liberation Sans', Arial, Helvetica, sans-serif" fill="#262626">
<line x1="1312" y1="934.1" x2="1322" y2="934.1" stroke="#262626" stroke-width="2"/>
<text transform="translate(1340.3,953.1) scale(1.02,1)" font-size="47.5" text-anchor="start" stroke="#ffffff" stroke-width="0.7">0.1</text>
<line x1="1312" y1="837.5" x2="1322" y2="837.5" stroke="#262626" stroke-width="2"/>
<text transform="translate(1340.3,856.7) scale(1.02,1)" font-size="47.5" text-anchor="start" stroke="#ffffff" stroke-width="0.7">0.2</text>
<line x1="1312" y1="740.9" x2="1322" y2="740.9" stroke="#262626" stroke-width="2"/>
<text transform="translate(1340.3,760.1) scale(1.02,1)" font-size="47.5" text-anchor="start" stroke="#ffffff" stroke-width="0.7">0.3</text>
<line x1="1312" y1="644.4" x2="1322" y2="644.4" stroke="#262626" stroke-width="2"/>
<text transform="translate(1340.3,663.3) scale(1.02,1)" font-size="47.5" text-anchor="start" stroke="#ffffff" stroke-width="0.7">0.4</text>
<line x1="1312" y1="547.8" x2="1322" y2="547.8" stroke="#262626" stroke-width="2"/>
<text transform="translate(1340.3,568.3) scale(1.02,1)" font-size="47.5" text-anchor="start" stroke="#ffffff" stroke-width="0.7">0.5</text>
<line x1="1312" y1="451.2" x2="1322" y2="451.2" stroke="#262626" stroke-width="2"/>
<text transform="translate(1340.3,472.2) scale(1.02,1)" font-size="47.5" text-anchor="start" stroke="#ffffff" stroke-width="0.7">0.6</text>
<line x1="1312" y1="354.6" x2="1322" y2="354.6" stroke="#262626" stroke-width="2"/>
<text transform="translate(1340.3,375.6) scale(1.02,1)" font-size="47.5" text-anchor="start" stroke="#ffffff" stroke-width="0.7">0.7</text>
<line x1="1312" y1="258" x2="1322" y2="258" stroke="#262626" stroke-width="2"/>
<text transform="translate(1340.3,278.8) scale(1.02,1)" font-size="47.5" text-anchor="start" stroke="#ffffff" stroke-width="0.7">0.8</text>
<line x1="1312" y1="161.5" x2="1322" y2="161.5" stroke="#262626" stroke-width="2"/>
<text transform="translate(1340.3,182.5) scale(1.02,1)" font-size="47.5" text-anchor="start" stroke="#ffffff" stroke-width="0.7">0.9</text>
</g>
<rect x="606.7" y="206.9" width="26" height="26" fill="#000000" stroke="#eeeed2" stroke-width="2"/>
<rect x="680.6" y="287.7" width="26" height="26" fill="#000000" stroke="#eeeed2" stroke-width="2"/>
<rect x="417.8" y="27.1" width="182.2" height="172.9" fill="#fdfdf0" stroke="#d6d6d6" stroke-width="2"/>
<g font-family="'Liberation Sans', Arial, Helvetica, sans-serif" font-size="37.5" fill="#0a0a0a" stroke="#fdfdf0" stroke-width="0.6">
<text x="430" y="77.1">X: -19.88</text>
<text x="430" y="128.7">Y: -24.94</text>
<text x="430" y="180.2">Z: 0.9218</text>
</g>
<rect x="711.7" y="110" width="163.8" height="172.6" fill="#fdfdf0" stroke="#d6d6d6" stroke-width="2"/>
<g font-family="'Liberation Sans', Arial, Helvetica, sans-serif" font-size="37.5" fill="#0a0a0a" stroke="#fdfdf0" stroke-width="0.6">
<text x="722" y="158.4">X: 14.91</text>
<text x="722" y="209.5">Y: 24.94</text>
<text x="722" y="260.6">Z: 1</text>
</g>
</svg>
</body>
</html>
